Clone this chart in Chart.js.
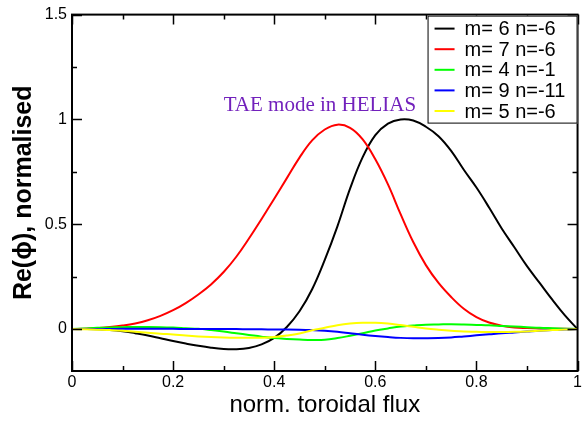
<!DOCTYPE html>
<html>
<head>
<meta charset="utf-8">
<script src="https://cdn.jsdelivr.net/npm/chart.js@4"></script>
<style>
  html, body { margin: 0; padding: 0; background: #fff; }
  #wrap { width: 584px; height: 425px; }
</style>
</head>
<body>
<div id="wrap"><canvas id="chart-1" width="584" height="425"></canvas></div>
<script>
// normalised toroidal flux (x), step 0.025
const fluxValues = [
  0, 0.025, 0.05, 0.075, 0.1, 0.125, 0.15, 0.175, 0.2, 0.225,
  0.25, 0.275, 0.3, 0.325, 0.35, 0.375, 0.4, 0.425, 0.45, 0.475,
  0.5, 0.525, 0.55, 0.575, 0.6, 0.625, 0.65, 0.675, 0.7, 0.725,
  0.75, 0.775, 0.8, 0.825, 0.85, 0.875, 0.9, 0.925, 0.95, 0.975, 1
];

// Re(phi) for each harmonic
const m6n6 = [
  0, 0, -0.001, -0.004, -0.01, -0.02, -0.031, -0.044, -0.057, -0.069,
  -0.08, -0.089, -0.095, -0.096, -0.09, -0.073, -0.042, 0.01, 0.085, 0.19,
  0.33, 0.49, 0.67, 0.82, 0.925, 0.98, 1.0, 0.995, 0.965, 0.92,
  0.85, 0.76, 0.675, 0.58, 0.48, 0.39, 0.3, 0.22, 0.14, 0.065, 0
];
const m7n6 = [
  0, 0.001, 0.005, 0.01, 0.017, 0.027, 0.042, 0.063, 0.09, 0.124,
  0.165, 0.213, 0.272, 0.345, 0.432, 0.525, 0.622, 0.72, 0.818, 0.9,
  0.952, 0.975, 0.96, 0.905, 0.81, 0.69, 0.548, 0.415, 0.305, 0.22,
  0.153, 0.097, 0.057, 0.031, 0.016, 0.008, 0.005, 0.003, 0.002, 0.001, 0
];
const m4n1 = [
  0, 0.003, 0.006, 0.008, 0.009, 0.01, 0.01, 0.009, 0.007, 0.004,
  0.001, -0.005, -0.012, -0.02, -0.028, -0.036, -0.043, -0.047, -0.05, -0.052,
  -0.051, -0.043, -0.032, -0.02, -0.007, 0.003, 0.012, 0.017, 0.021, 0.022,
  0.023, 0.022, 0.02, 0.018, 0.015, 0.012, 0.009, 0.006, 0.004, 0.002, 0
];
const m9n11 = [
  0, 0, 0, 0, 0.001, 0.001, 0.001, 0.001, 0.001, 0,
  0, 0, 0, 0, -0.001, -0.001, -0.002, -0.002, -0.003, -0.005,
  -0.008, -0.013, -0.02, -0.027, -0.033, -0.038, -0.042, -0.044, -0.044, -0.043,
  -0.04, -0.035, -0.03, -0.025, -0.02, -0.016, -0.012, -0.008, -0.005, -0.002, 0
];
const m5n6 = [
  0, -0.001, -0.003, -0.005, -0.008, -0.013, -0.017, -0.022, -0.026, -0.031,
  -0.035, -0.038, -0.04, -0.041, -0.041, -0.041, -0.038, -0.031, -0.021, -0.006,
  0.006, 0.018, 0.026, 0.03, 0.03, 0.026, 0.019, 0.011, 0.003, -0.003,
  -0.008, -0.012, -0.013, -0.014, -0.014, -0.013, -0.011, -0.008, -0.005, -0.002, 0
];

const seriesLabels = ["m= 6 n=-6", "m= 7 n=-6", "m= 4 n=-1", "m= 9 n=-11", "m= 5 n=-6"];
const seriesColors = ["#000000", "#ff0000", "#00ff00", "#0000ff", "#ffff00"];
const seriesValues = [m6n6, m7n6, m4n1, m9n11, m5n6];

const xTickValues = [0, 0.2, 0.4, 0.6, 0.8, 1];
const xMinorTicks = [0.1, 0.3, 0.5, 0.7, 0.9];
const yTickValues = [0, 0.5, 1, 1.5];
const yMinorTicks = [-0.25, 0.25, 0.75, 1.25];

const annotationText = "TAE mode in HELIAS";

// frame, inward ticks, legend box and the text label
const decorPlugin = {
  id: "decor",
  afterDraw(chart) {
    const ctx = chart.ctx;
    const a = chart.chartArea;
    const xs = chart.scales.x;
    const ys = chart.scales.y;
    ctx.save();
    ctx.strokeStyle = "#000";

    // ticks on all four sides, pointing inwards
    ctx.lineWidth = 1.5;
    ctx.beginPath();
    const xTick = (v, len) => {
      const px = Math.round(xs.getPixelForValue(v)) + 0.5;
      ctx.moveTo(px, a.bottom); ctx.lineTo(px, a.bottom - len);
      ctx.moveTo(px, a.top); ctx.lineTo(px, a.top + len);
    };
    const yTick = (v, len) => {
      const py = Math.round(ys.getPixelForValue(v)) + 0.5;
      if (py < a.top || py > a.bottom) return;
      ctx.moveTo(a.left, py); ctx.lineTo(a.left + len, py);
      ctx.moveTo(a.right, py); ctx.lineTo(a.right - len, py);
    };
    xTickValues.forEach((v) => xTick(v, 10));
    xMinorTicks.forEach((v) => xTick(v, 5));
    yTickValues.forEach((v) => yTick(v, 10));
    yMinorTicks.forEach((v) => yTick(v, 5));
    ctx.stroke();

    // frame
    ctx.lineWidth = 2;
    ctx.strokeRect(a.left, a.top, a.right - a.left, a.bottom - a.top);

    // annotation
    ctx.fillStyle = "rgb(114,33,188)";
    ctx.font = "21px 'Liberation Serif', 'Times New Roman', serif";
    ctx.textBaseline = "alphabetic";
    ctx.textAlign = "left";
    ctx.fillText(annotationText, xs.getPixelForValue(0.3), ys.getPixelForValue(1.04));

    // legend
    const boxW = 150, boxH = 108, rowH = 20.6;
    const bx = a.right - boxW, by = a.top + 1;
    ctx.fillStyle = "#fff";
    ctx.fillRect(bx, by, boxW, boxH);
    ctx.lineWidth = 1;
    ctx.strokeRect(bx + 0.5, by + 0.5, boxW - 1, boxH - 1);
    ctx.font = "20px 'Liberation Sans', Arial, sans-serif";
    ctx.textBaseline = "middle";
    chart.data.datasets.forEach((ds, i) => {
      const cy = by + 13 + i * rowH;
      ctx.strokeStyle = ds.borderColor;
      ctx.lineWidth = 2;
      ctx.beginPath();
      ctx.moveTo(bx + 7, cy); ctx.lineTo(bx + 27, cy);
      ctx.stroke();
      ctx.fillStyle = "#000";
      ctx.fillText(ds.label, bx + 37, cy + 1);
    });
    ctx.restore();
  },
};

const ctx = document.getElementById("chart-1").getContext("2d");
const myChart = new Chart(ctx, {
  type: "line",
  data: {
    datasets: seriesValues.map((vals, i) => ({
      label: seriesLabels[i],
      data: fluxValues.map((x, j) => ({ x: x, y: vals[j] })),
      borderColor: seriesColors[i],
      borderWidth: 2,
      pointRadius: 0,
      fill: false,
      tension: 0.4,
      order: seriesValues.length - i,
    })),
  },
  options: {
    responsive: false,
    animation: false,
    devicePixelRatio: 1,
    layout: { padding: { top: 11, right: 1, left: 0, bottom: 0 } },
    plugins: {
      legend: { display: false },
      tooltip: { enabled: false },
    },
    scales: {
      x: {
        type: "linear",
        min: 0,
        max: 1,
        afterFit: (scale) => { scale.height = 54; },
        afterBuildTicks: (scale) => {
          scale.ticks = xTickValues.map((v) => ({ value: v }));
        },
        grid: { display: false, drawTicks: false },
        border: { display: false },
        ticks: {
          color: "#000",
          padding: 2,
          maxRotation: 0,
          autoSkip: false,
          font: { family: "'Liberation Sans', Arial, sans-serif", size: 16 },
          callback: (v) => String(v),
        },
        title: {
          display: true,
          text: "norm. toroidal flux",
          color: "#000",
          padding: { top: 0, bottom: 5 },
          font: { family: "'Liberation Sans', Arial, sans-serif", size: 24 },
        },
      },
      y: {
        type: "linear",
        min: -0.2,
        max: 1.5,
        afterFit: (scale) => { scale.width = 72; },
        afterBuildTicks: (scale) => {
          scale.ticks = yTickValues.map((v) => ({ value: v }));
        },
        grid: { display: false, drawTicks: false },
        border: { display: false },
        ticks: {
          color: "#000",
          padding: 5,
          font: { family: "'Liberation Sans', Arial, sans-serif", size: 16 },
          callback: (v) => String(v),
        },
        title: {
          display: true,
          text: "Re(\u03d5), normalised",
          color: "#000",
          padding: { top: 9, bottom: 0 },
          font: { family: "'Liberation Sans', Arial, sans-serif", size: 25, weight: "bold" },
        },
      },
    },
  },
  plugins: [decorPlugin],
});
</script>
</body>
</html>
